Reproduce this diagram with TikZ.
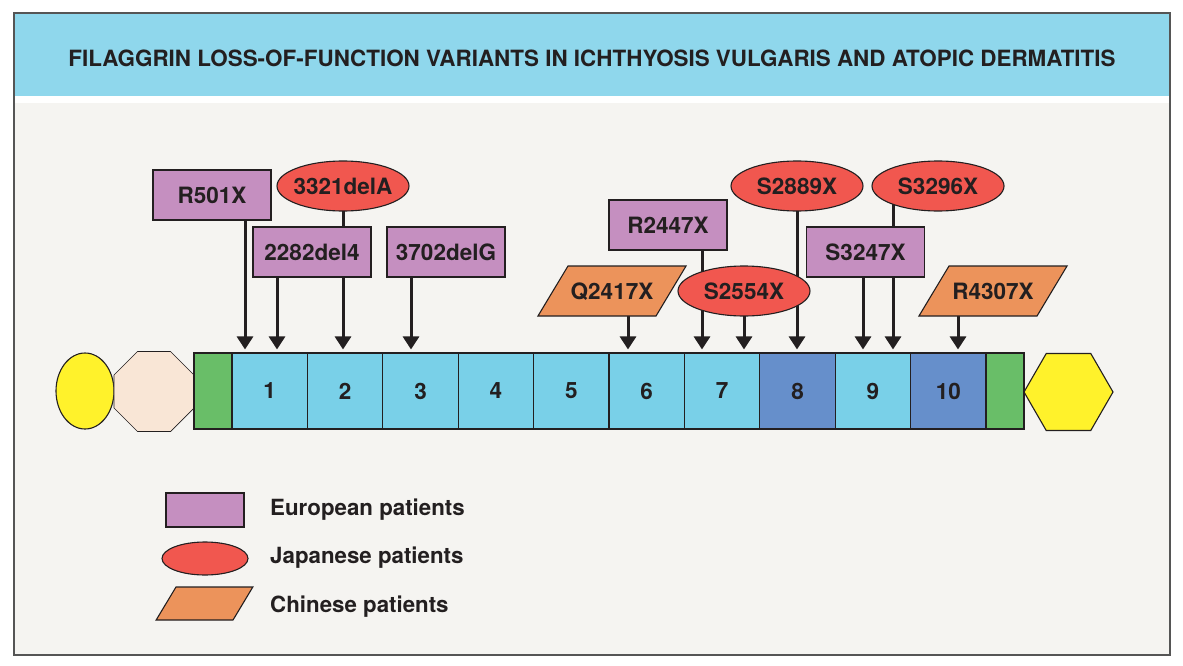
\documentclass[tikz,border=0pt]{standalone}
\usepackage{fontspec}
\setmainfont{TeX Gyre Heros}
\usepackage{tikz,xcolor}
\usetikzlibrary{shapes.geometric,arrows.meta,calc}

\definecolor{titleblue}{HTML}{8FD7EC}
\definecolor{panelgrey}{HTML}{F5F4F1}
\definecolor{framegrey}{HTML}{555555}
\definecolor{inkgrey}{HTML}{231F20}
\definecolor{eurpurple}{HTML}{C58FC0}
\definecolor{japred}{HTML}{F1574F}
\definecolor{chnorange}{HTML}{EC935B}
\definecolor{exonblue}{HTML}{79D0E8}
\definecolor{exondark}{HTML}{668FCB}
\definecolor{termgreen}{HTML}{69BE68}
\definecolor{capyellow}{HTML}{FFF22B}
\definecolor{octbeige}{HTML}{F9E6D6}

\pgfdeclarelayer{bg}
\pgfdeclarelayer{wires}
\pgfsetlayers{bg,wires,main}

\begin{document}
\begin{tikzpicture}[x=1pt,y=-1pt,
  lab/.style={font=\fontsize{22.5}{27}\selectfont\bfseries, text=inkgrey, draw=inkgrey, line width=1.1pt, inner sep=0pt},
  eur/.style={lab, rectangle, fill=eurpurple, minimum width=118pt, minimum height=50pt},
  jap/.style={lab, ellipse, fill=japred, inner xsep=-3pt, minimum width=132pt, minimum height=50pt},
  chn/.style={lab, trapezium, trapezium left angle=59, trapezium right angle=121, fill=chnorange, text width=88pt, align=center, text height=33.25pt, text depth=16.75pt},
  exon/.style={lab, rectangle, minimum width=75.4pt, minimum height=76pt},
  keytext/.style={anchor=base west, inner sep=0pt, font=\fontsize{22.3}{27}\selectfont\bfseries, text=inkgrey},
  arr/.style={draw=inkgrey, line width=3pt, -{Triangle[length=13pt,width=16pt]}, shorten >=3pt}
]
\useasboundingbox (0,0) rectangle (1183,666);

\begin{pgfonlayer}{bg}
\fill[panelgrey] (14,103) rectangle (1170,655);
\fill[white] (14,96) rectangle (1170,103);
\fill[titleblue] (14,13) rectangle (1170,96);
\draw[framegrey, line width=1.5pt] (14,13) rectangle (1170,655);
\end{pgfonlayer}

\node[anchor=base, font=\fontsize{22.4}{27}\selectfont\bfseries, text=inkgrey] (title) at (592,66.5) {FILAGGRIN LOSS-OF-FUNCTION VARIANTS IN ICHTHYOSIS VULGARIS AND ATOPIC DERMATITIS};

% protein
\node[lab, ellipse, fill=capyellow, minimum width=58pt, minimum height=76pt] (cap) at (85,391) {};
\node[lab, regular polygon, regular polygon sides=8, fill=octbeige, line width=0.6pt, minimum size=86.6pt] (octo) at (154,391.5) {};
\node[lab, rectangle, fill=termgreen, minimum width=38pt, minimum height=76pt] (nterm) at (213,391) {};
\foreach \i/\c in {1/exonblue,2/exonblue,3/exonblue,4/exonblue,5/exonblue,6/exonblue,7/exonblue,8/exondark,9/exonblue,10/exondark}
  \node[exon, fill=\c] (b\i) at ({232+75.4*(\i-0.5)},391) {\i};
\node[lab, rectangle, fill=termgreen, minimum width=38pt, minimum height=76pt] (cterm) at (1005,391) {};
\node[lab, regular polygon, regular polygon sides=6, fill=capyellow, minimum size=89pt] (hex) at (1068.5,392) {};

% variants
\node[eur] (r501x) at (212,195) {R501X};
\node[jap] (c3321) at (343,186) {3321delA};
\node[eur] (d2282) at (312,252) {2282del4};
\node[eur] (d3702) at (446,252) {3702delG};
\node[chn] (q2417) at (612,291) {Q2417X};
\node[eur] (r2447) at (668,225) {R2447X};
\node[jap] (s2554) at (744,291) {S2554X};
\node[jap] (s2889) at (797,186) {S2889X};
\node[eur] (s3247) at (865.5,252) {S3247X};
\node[jap] (s3296) at (938,186) {S3296X};
\node[chn] (r4307) at (993,291) {R4307X};

\begin{pgfonlayer}{wires}
\foreach \s/\b/\x in {r501x/b1/245, d2282/b1/277, c3321/b2/343, d3702/b3/411, q2417/b6/628, r2447/b7/702, s2554/b7/744, s2889/b8/797, s3247/b9/863, s3296/b9/893, r4307/b10/958}
  \draw[arr] (\s.center -| \x,0) -- (\b.north -| \x,0);
\end{pgfonlayer}

% key
\node[eur, minimum width=78pt, minimum height=34pt] (keyeur) at (205,510) {};
\node[jap, minimum width=86pt, minimum height=33pt] (keyjap) at (205,558.5) {};
\node[chn, text width=57pt, text height=16.5pt, text depth=16.5pt] (keychn) at (204.5,603.5) {};
\node[keytext] (txteur) at (270,515) {European patients};
\node[keytext] (txtjap) at (270,563.5) {Japanese patients};
\node[keytext] (txtchn) at (270,612) {Chinese patients};
\end{tikzpicture}
\end{document}
